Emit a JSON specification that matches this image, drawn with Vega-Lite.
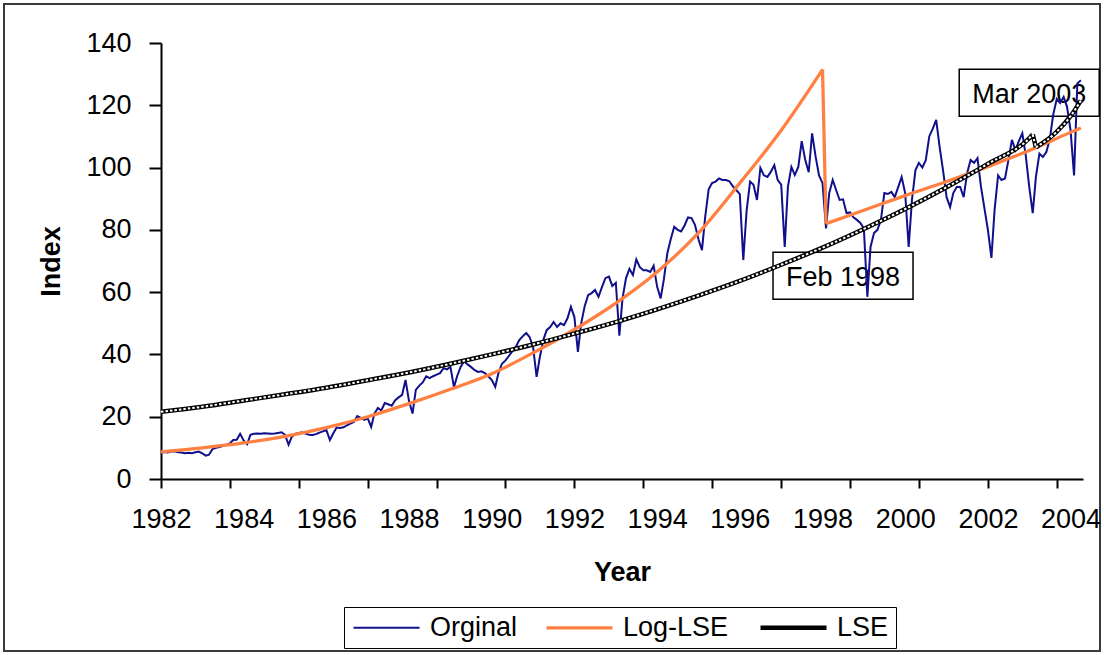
{
  "$schema": "https://vega.github.io/schema/vega-lite/v6.json",
  "width": 1096,
  "height": 647,
  "autosize": {"type": "none"},
  "padding": {"left": 4, "top": 4, "right": 4, "bottom": 4},
  "background": "white",
  "config": {
    "view": {"stroke": "#3a3a3a", "strokeWidth": 2},
    "font": "Liberation Sans",
    "axis": {
      "domainColor": "black", "domainWidth": 2, "tickColor": "black", "tickWidth": 2,
      "labelColor": "black", "labelFont": "Liberation Sans", "labelFontSize": 27,
      "titleFont": "Liberation Sans", "titleFontSize": 27, "titleFontWeight": "bold", "titleColor": "black",
      "grid": false, "labelFlush": false, "labelOverlap": false, "labelBound": false
    },
    "legend": {
      "orient": "none", "legendX": 340, "legendY": 603, "direction": "horizontal",
      "strokeColor": "black", "fillColor": "white", "padding": 7,
      "labelFont": "Liberation Sans", "labelFontSize": 27, "labelColor": "black",
      "symbolType": "M-3,0L3,0", "symbolSize": 484, "symbolOffset": 22, "labelOffset": 30, "columnPadding": 22
    }
  },
  "datasets": {
    "original": [
      {"month":"1982-01","index":8.6},{"month":"1982-02","index":8.7},{"month":"1982-03","index":8.5},{"month":"1982-04","index":8.8},{"month":"1982-05","index":8.9},{"month":"1982-06","index":8.6},{"month":"1982-07","index":8.5},{"month":"1982-08","index":8.3},{"month":"1982-09","index":8.4},{"month":"1982-10","index":8.3},{"month":"1982-11","index":8.6},{"month":"1982-12","index":8.8},
      {"month":"1983-01","index":8.2},{"month":"1983-02","index":7.5},{"month":"1983-03","index":7.8},{"month":"1983-04","index":9.6},{"month":"1983-05","index":10.0},{"month":"1983-06","index":10.3},{"month":"1983-07","index":10.6},{"month":"1983-08","index":11.0},{"month":"1983-09","index":11.4},{"month":"1983-10","index":12.5},{"month":"1983-11","index":12.6},{"month":"1983-12","index":14.5},
      {"month":"1984-01","index":12.4},{"month":"1984-02","index":11.2},{"month":"1984-03","index":14.2},{"month":"1984-04","index":14.5},{"month":"1984-05","index":14.6},{"month":"1984-06","index":14.5},{"month":"1984-07","index":14.7},{"month":"1984-08","index":14.6},{"month":"1984-09","index":14.5},{"month":"1984-10","index":14.6},{"month":"1984-11","index":14.8},{"month":"1984-12","index":15.0},
      {"month":"1985-01","index":14.2},{"month":"1985-02","index":11.0},{"month":"1985-03","index":13.5},{"month":"1985-04","index":14.5},{"month":"1985-05","index":14.8},{"month":"1985-06","index":15.0},{"month":"1985-07","index":14.6},{"month":"1985-08","index":14.2},{"month":"1985-09","index":14.1},{"month":"1985-10","index":14.4},{"month":"1985-11","index":14.9},{"month":"1985-12","index":15.3},
      {"month":"1986-01","index":15.7},{"month":"1986-02","index":12.5},{"month":"1986-03","index":14.5},{"month":"1986-04","index":16.5},{"month":"1986-05","index":16.4},{"month":"1986-06","index":16.6},{"month":"1986-07","index":17.2},{"month":"1986-08","index":17.8},{"month":"1986-09","index":18.3},{"month":"1986-10","index":20.2},{"month":"1986-11","index":19.6},{"month":"1986-12","index":19.0},
      {"month":"1987-01","index":19.5},{"month":"1987-02","index":16.7},{"month":"1987-03","index":21.0},{"month":"1987-04","index":22.8},{"month":"1987-05","index":22.0},{"month":"1987-06","index":24.4},{"month":"1987-07","index":24.0},{"month":"1987-08","index":23.5},{"month":"1987-09","index":25.3},{"month":"1987-10","index":26.2},{"month":"1987-11","index":27.0},{"month":"1987-12","index":31.8},
      {"month":"1988-01","index":25.0},{"month":"1988-02","index":21.0},{"month":"1988-03","index":28.6},{"month":"1988-04","index":30.0},{"month":"1988-05","index":31.0},{"month":"1988-06","index":33.0},{"month":"1988-07","index":32.4},{"month":"1988-08","index":33.0},{"month":"1988-09","index":33.5},{"month":"1988-10","index":34.0},{"month":"1988-11","index":35.6},{"month":"1988-12","index":35.2},
      {"month":"1989-01","index":36.0},{"month":"1989-02","index":29.5},{"month":"1989-03","index":33.0},{"month":"1989-04","index":36.0},{"month":"1989-05","index":37.8},{"month":"1989-06","index":36.8},{"month":"1989-07","index":36.0},{"month":"1989-08","index":35.0},{"month":"1989-09","index":34.4},{"month":"1989-10","index":34.6},{"month":"1989-11","index":34.0},{"month":"1989-12","index":33.0},
      {"month":"1990-01","index":31.8},{"month":"1990-02","index":29.6},{"month":"1990-03","index":34.0},{"month":"1990-04","index":37.0},{"month":"1990-05","index":38.0},{"month":"1990-06","index":39.5},{"month":"1990-07","index":41.0},{"month":"1990-08","index":42.4},{"month":"1990-09","index":44.6},{"month":"1990-10","index":45.8},{"month":"1990-11","index":46.9},{"month":"1990-12","index":45.6},
      {"month":"1991-01","index":42.4},{"month":"1991-02","index":32.8},{"month":"1991-03","index":39.0},{"month":"1991-04","index":44.6},{"month":"1991-05","index":47.8},{"month":"1991-06","index":48.8},{"month":"1991-07","index":50.4},{"month":"1991-08","index":48.8},{"month":"1991-09","index":50.0},{"month":"1991-10","index":49.4},{"month":"1991-11","index":51.6},{"month":"1991-12","index":55.3},
      {"month":"1992-01","index":52.0},{"month":"1992-02","index":40.8},{"month":"1992-03","index":50.0},{"month":"1992-04","index":55.5},{"month":"1992-05","index":59.0},{"month":"1992-06","index":59.7},{"month":"1992-07","index":60.7},{"month":"1992-08","index":58.5},{"month":"1992-09","index":61.7},{"month":"1992-10","index":64.5},{"month":"1992-11","index":65.0},{"month":"1992-12","index":62.0},
      {"month":"1993-01","index":63.0},{"month":"1993-02","index":46.0},{"month":"1993-03","index":58.0},{"month":"1993-04","index":64.5},{"month":"1993-05","index":67.5},{"month":"1993-06","index":65.5},{"month":"1993-07","index":70.5},{"month":"1993-08","index":68.0},{"month":"1993-09","index":67.0},{"month":"1993-10","index":67.0},{"month":"1993-11","index":66.5},{"month":"1993-12","index":68.5},
      {"month":"1994-01","index":61.7},{"month":"1994-02","index":58.0},{"month":"1994-03","index":64.0},{"month":"1994-04","index":72.5},{"month":"1994-05","index":77.0},{"month":"1994-06","index":81.0},{"month":"1994-07","index":80.0},{"month":"1994-08","index":79.5},{"month":"1994-09","index":81.5},{"month":"1994-10","index":84.0},{"month":"1994-11","index":83.8},{"month":"1994-12","index":81.6},
      {"month":"1995-01","index":77.0},{"month":"1995-02","index":73.5},{"month":"1995-03","index":84.0},{"month":"1995-04","index":93.0},{"month":"1995-05","index":95.0},{"month":"1995-06","index":95.5},{"month":"1995-07","index":96.5},{"month":"1995-08","index":96.0},{"month":"1995-09","index":96.0},{"month":"1995-10","index":95.6},{"month":"1995-11","index":94.0},{"month":"1995-12","index":92.8},
      {"month":"1996-01","index":91.5},{"month":"1996-02","index":70.3},{"month":"1996-03","index":86.0},{"month":"1996-04","index":95.5},{"month":"1996-05","index":94.5},{"month":"1996-06","index":89.6},{"month":"1996-07","index":99.9},{"month":"1996-08","index":97.5},{"month":"1996-09","index":97.0},{"month":"1996-10","index":98.6},{"month":"1996-11","index":100.8},{"month":"1996-12","index":96.0},
      {"month":"1997-01","index":94.5},{"month":"1997-02","index":74.5},{"month":"1997-03","index":93.8},{"month":"1997-04","index":100.2},{"month":"1997-05","index":97.6},{"month":"1997-06","index":100.2},{"month":"1997-07","index":108.5},{"month":"1997-08","index":102.5},{"month":"1997-09","index":98.5},{"month":"1997-10","index":111.0},{"month":"1997-11","index":103.5},{"month":"1997-12","index":97.5},
      {"month":"1998-01","index":95.0},{"month":"1998-02","index":80.5},{"month":"1998-03","index":91.8},{"month":"1998-04","index":96.0},{"month":"1998-05","index":92.8},{"month":"1998-06","index":89.6},{"month":"1998-07","index":89.8},{"month":"1998-08","index":85.4},{"month":"1998-09","index":85.6},{"month":"1998-10","index":84.0},{"month":"1998-11","index":83.2},{"month":"1998-12","index":82.2},
      {"month":"1999-01","index":80.5},{"month":"1999-02","index":58.5},{"month":"1999-03","index":74.5},{"month":"1999-04","index":79.0},{"month":"1999-05","index":80.0},{"month":"1999-06","index":83.2},{"month":"1999-07","index":91.8},{"month":"1999-08","index":91.5},{"month":"1999-09","index":92.2},{"month":"1999-10","index":90.5},{"month":"1999-11","index":93.8},{"month":"1999-12","index":97.0},
      {"month":"2000-01","index":91.8},{"month":"2000-02","index":74.5},{"month":"2000-03","index":89.6},{"month":"2000-04","index":99.2},{"month":"2000-05","index":101.5},{"month":"2000-06","index":100.0},{"month":"2000-07","index":102.4},{"month":"2000-08","index":110.0},{"month":"2000-09","index":112.5},{"month":"2000-10","index":115.3},{"month":"2000-11","index":106.5},{"month":"2000-12","index":99.0},
      {"month":"2001-01","index":90.5},{"month":"2001-02","index":87.3},{"month":"2001-03","index":91.8},{"month":"2001-04","index":93.8},{"month":"2001-05","index":93.8},{"month":"2001-06","index":90.5},{"month":"2001-07","index":98.2},{"month":"2001-08","index":102.4},{"month":"2001-09","index":101.5},{"month":"2001-10","index":103.0},{"month":"2001-11","index":93.8},{"month":"2001-12","index":87.0},
      {"month":"2002-01","index":80.0},{"month":"2002-02","index":71.0},{"month":"2002-03","index":86.4},{"month":"2002-04","index":97.5},{"month":"2002-05","index":96.0},{"month":"2002-06","index":96.5},{"month":"2002-07","index":102.4},{"month":"2002-08","index":108.9},{"month":"2002-09","index":105.6},{"month":"2002-10","index":108.5},{"month":"2002-11","index":111.0},{"month":"2002-12","index":104.0},
      {"month":"2003-01","index":93.8},{"month":"2003-02","index":85.4},{"month":"2003-03","index":97.0},{"month":"2003-04","index":104.5},{"month":"2003-05","index":103.4},{"month":"2003-06","index":105.0},{"month":"2003-07","index":109.0},{"month":"2003-08","index":117.0},{"month":"2003-09","index":122.0},{"month":"2003-10","index":120.7},{"month":"2003-11","index":122.7},{"month":"2003-12","index":119.5},
      {"month":"2004-01","index":112.0},{"month":"2004-02","index":97.5},{"month":"2004-03","index":127.0},{"month":"2004-04","index":128.0}
    ],
    "fits": [
      {"series":"Log-LSE","part":1,"month":"1982-01","index":8.7},
      {"series":"Log-LSE","part":1,"month":"1983-01","index":10.0},
      {"series":"Log-LSE","part":1,"month":"1984-01","index":11.6},
      {"series":"Log-LSE","part":1,"month":"1985-01","index":13.7},
      {"series":"Log-LSE","part":1,"month":"1986-01","index":16.5},
      {"series":"Log-LSE","part":1,"month":"1987-01","index":20.0},
      {"series":"Log-LSE","part":1,"month":"1988-01","index":24.2},
      {"series":"Log-LSE","part":1,"month":"1989-01","index":28.8},
      {"series":"Log-LSE","part":1,"month":"1990-01","index":33.8},
      {"series":"Log-LSE","part":1,"month":"1991-01","index":40.5},
      {"series":"Log-LSE","part":1,"month":"1992-01","index":48.0},
      {"series":"Log-LSE","part":1,"month":"1993-01","index":56.5},
      {"series":"Log-LSE","part":1,"month":"1994-01","index":66.5},
      {"series":"Log-LSE","part":1,"month":"1995-01","index":79.0},
      {"series":"Log-LSE","part":1,"month":"1996-01","index":95.0},
      {"series":"Log-LSE","part":1,"month":"1997-01","index":112.0},
      {"series":"Log-LSE","part":1,"month":"1998-01","index":131.5},
      {"series":"Log-LSE","part":2,"month":"1998-01","index":131.5},
      {"series":"Log-LSE","part":2,"month":"1998-02","index":82.0},
      {"series":"Log-LSE","part":3,"month":"1998-02","index":82.0},
      {"series":"Log-LSE","part":3,"month":"1999-01","index":86.3},
      {"series":"Log-LSE","part":3,"month":"2000-01","index":91.0},
      {"series":"Log-LSE","part":3,"month":"2001-01","index":95.5},
      {"series":"Log-LSE","part":3,"month":"2002-01","index":100.3},
      {"series":"Log-LSE","part":3,"month":"2003-01","index":105.5},
      {"series":"Log-LSE","part":3,"month":"2004-01","index":111.3},
      {"series":"Log-LSE","part":3,"month":"2004-04","index":112.7},
      {"series":"LSE","part":1,"month":"1982-01","index":21.6},
      {"series":"LSE","part":1,"month":"1983-01","index":23.2},
      {"series":"LSE","part":1,"month":"1984-01","index":25.2},
      {"series":"LSE","part":1,"month":"1985-01","index":27.2},
      {"series":"LSE","part":1,"month":"1986-01","index":29.3},
      {"series":"LSE","part":1,"month":"1987-01","index":31.7},
      {"series":"LSE","part":1,"month":"1988-01","index":34.2},
      {"series":"LSE","part":1,"month":"1989-01","index":37.0},
      {"series":"LSE","part":1,"month":"1990-01","index":40.0},
      {"series":"LSE","part":1,"month":"1991-01","index":43.2},
      {"series":"LSE","part":1,"month":"1992-01","index":46.7},
      {"series":"LSE","part":1,"month":"1993-01","index":50.4},
      {"series":"LSE","part":1,"month":"1994-01","index":54.5},
      {"series":"LSE","part":1,"month":"1995-01","index":58.9},
      {"series":"LSE","part":1,"month":"1996-01","index":63.6},
      {"series":"LSE","part":1,"month":"1997-01","index":68.8},
      {"series":"LSE","part":1,"month":"1998-01","index":74.3},
      {"series":"LSE","part":1,"month":"1999-01","index":80.3},
      {"series":"LSE","part":1,"month":"2000-01","index":86.7},
      {"series":"LSE","part":1,"month":"2001-01","index":93.7},
      {"series":"LSE","part":1,"month":"2002-01","index":101.2},
      {"series":"LSE","part":1,"month":"2003-01","index":109.4},
      {"series":"LSE","part":1,"month":"2003-02","index":110.6},
      {"series":"LSE","part":2,"month":"2003-02","index":110.6},
      {"series":"LSE","part":2,"month":"2003-03","index":106.5},
      {"series":"LSE","part":3,"month":"2003-03","index":106.5},
      {"series":"LSE","part":3,"month":"2003-09","index":111.5},
      {"series":"LSE","part":3,"month":"2004-01","index":116.5},
      {"series":"LSE","part":3,"month":"2004-04","index":121.5}
    ],
    "notes": [
      {"label":"Feb 1998","month":"1998-07","index":65.3},
      {"label":"Mar 2003","month":"2003-01","index":124.0}
    ]
  },
  "encoding": {
    "y": {
      "field": "index", "type": "quantitative",
      "scale": {"domain": [0, 140], "range": [475, 39], "nice": false, "zero": true},
      "axis": {"orient": "left", "offset": -157, "values": [0, 20, 40, 60, 80, 100, 120, 140], "tickSize": 12, "labelPadding": 18, "title": "Index", "titlePadding": 20}
    }
  },
  "layer": [
    {
      "data": {"name": "notes"},
      "mark": {"type": "rect", "width": 140, "height": 47, "fill": "white", "stroke": "black", "strokeWidth": 1.5},
      "encoding": {
        "x": {"field": "month", "type": "temporal", "scale": {"domain": [{"year": 1982, "month": 1, "date": 1}, {"year": 2004, "month": 4, "date": 20}], "range": [157, 1079], "nice": false}, "axis": null}
      }
    },
    {
      "data": {"name": "notes"},
      "mark": {"type": "text", "fontSize": 27, "font": "Liberation Sans", "color": "black", "align": "center", "baseline": "middle", "dy": 2},
      "encoding": {
        "x": {"field": "month", "type": "temporal", "axis": null},
        "text": {"field": "label"}
      }
    },
    {
      "data": {"name": "original"},
      "mark": {"type": "line", "interpolate": "linear"},
      "encoding": {
        "x": {
          "field": "month", "type": "temporal",
          "axis": {
            "orient": "bottom", "offset": -172, "labels": false, "tickSize": 9, "title": null,
            "values": [{"year": 1982, "month": 1, "date": 1}, {"year": 1983, "month": 9, "date": 1}, {"year": 1985, "month": 5, "date": 1}, {"year": 1987, "month": 1, "date": 1}, {"year": 1988, "month": 9, "date": 1}, {"year": 1990, "month": 5, "date": 1}, {"year": 1992, "month": 1, "date": 1}, {"year": 1993, "month": 9, "date": 1}, {"year": 1995, "month": 5, "date": 1}, {"year": 1997, "month": 1, "date": 1}, {"year": 1998, "month": 9, "date": 1}, {"year": 2000, "month": 5, "date": 1}, {"year": 2002, "month": 1, "date": 1}, {"year": 2003, "month": 9, "date": 1}]
          }
        },
        "color": {"datum": "Orginal", "type": "nominal", "scale": {"domain": ["Orginal", "Log-LSE", "LSE"], "range": ["#10108c", "#ff8040", "#000000"]}, "legend": {"title": null}},
        "strokeWidth": {"datum": "Orginal", "type": "nominal", "scale": {"domain": ["Orginal", "Log-LSE", "LSE"], "range": [2, 4.5, 4.5]}, "legend": {"title": null}}
      }
    },
    {
      "data": {"name": "fits"},
      "transform": [{"filter": "datum.series === 'Log-LSE'"}],
      "mark": {"type": "line", "interpolate": "monotone"},
      "encoding": {
        "x": {
          "field": "month", "type": "temporal",
          "axis": {
            "orient": "bottom", "offset": -172, "domain": false, "tickOpacity": 0, "tickSize": 9, "labelPadding": 18, "format": "%Y",
            "title": "Year", "titlePadding": 27,
            "values": [{"year": 1982, "month": 1, "date": 1}, {"year": 1984, "month": 1, "date": 1}, {"year": 1986, "month": 1, "date": 1}, {"year": 1988, "month": 1, "date": 1}, {"year": 1990, "month": 1, "date": 1}, {"year": 1992, "month": 1, "date": 1}, {"year": 1994, "month": 1, "date": 1}, {"year": 1996, "month": 1, "date": 1}, {"year": 1998, "month": 1, "date": 1}, {"year": 2000, "month": 1, "date": 1}, {"year": 2002, "month": 1, "date": 1}, {"year": 2004, "month": 1, "date": 1}]
          }
        },
        "color": {"field": "series", "type": "nominal", "legend": {"title": null}},
        "strokeWidth": {"field": "series", "type": "nominal", "legend": {"title": null}},
        "detail": {"field": "part"}
      }
    },
    {
      "data": {"name": "fits"},
      "transform": [{"filter": "datum.series === 'LSE'"}],
      "mark": {"type": "line", "interpolate": "monotone"},
      "encoding": {
        "x": {"field": "month", "type": "temporal", "axis": null},
        "color": {"field": "series", "type": "nominal", "legend": {"title": null}},
        "strokeWidth": {"field": "series", "type": "nominal", "legend": {"title": null}},
        "detail": {"field": "part"}
      }
    },
    {
      "data": {"name": "fits"},
      "transform": [{"filter": "datum.series === 'LSE'"}],
      "mark": {"type": "line", "interpolate": "monotone", "color": "white", "strokeWidth": 2, "strokeDash": [2.5, 2]},
      "encoding": {
        "x": {"field": "month", "type": "temporal", "axis": null},
        "detail": {"field": "part"}
      }
    }
  ],
  "resolve": {"axis": {"x": "independent"}}
}
